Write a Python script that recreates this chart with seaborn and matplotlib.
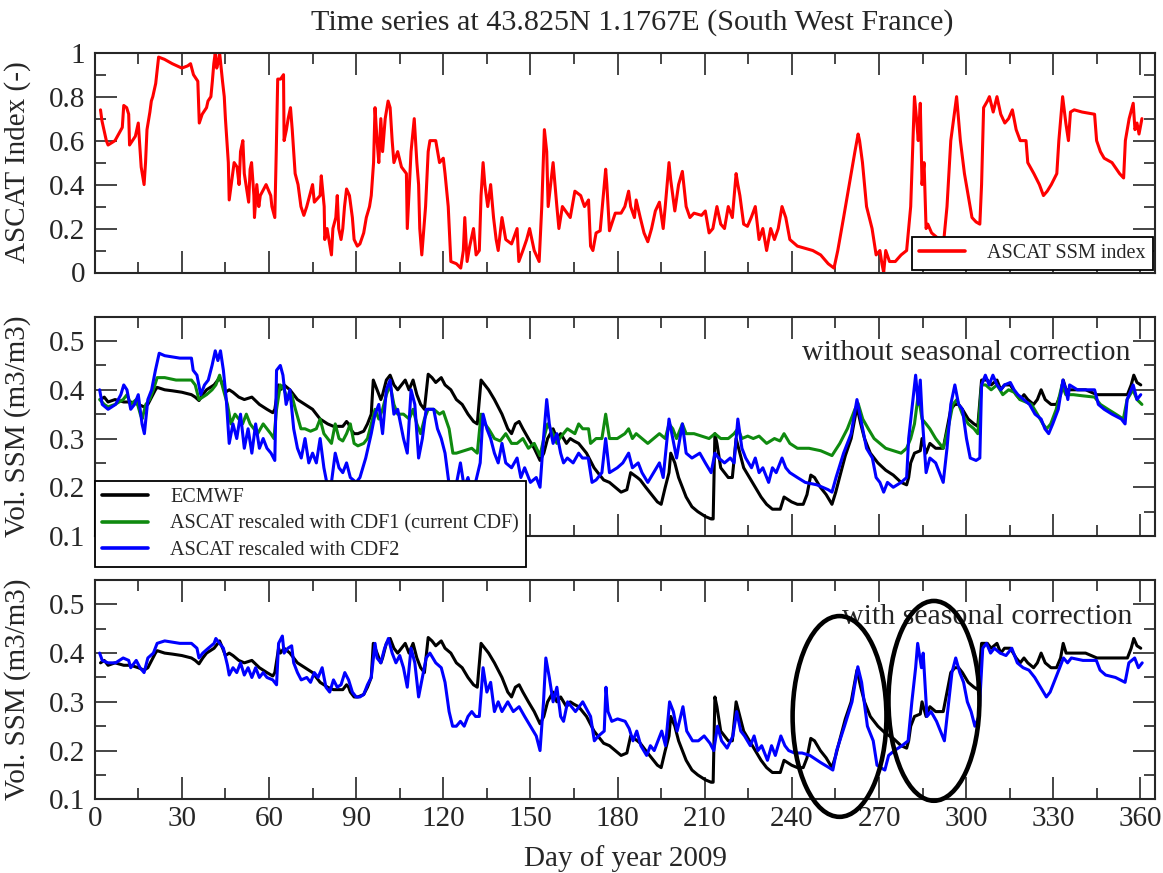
import matplotlib
matplotlib.use("Agg")
import matplotlib.pyplot as plt
from matplotlib.patches import Ellipse
from matplotlib.ticker import MultipleLocator, FuncFormatter
import seaborn as sns

# (day of year, value) pairs
ascat_index = [
    (2, 0.74), (2.5, 0.69), (3.5, 0.63), (4, 0.60), (4.6, 0.58), (7, 0.60), (9.5, 0.66),
    (10, 0.76), (11, 0.75), (11.7, 0.72), (12, 0.58), (13, 0.60), (14, 0.62), (15, 0.68),
    (16, 0.48), (17, 0.40), (17.5, 0.50), (18, 0.65), (19, 0.73), (19.5, 0.78), (20, 0.80),
    (21, 0.86), (21.5, 0.92), (22, 0.98), (24, 0.97), (26.7, 0.95), (30, 0.93), (32, 0.94),
    (33, 0.95), (34, 0.90), (35, 0.88), (35.5, 0.87), (36, 0.68), (37, 0.72), (38.5, 0.75),
    (39, 0.78), (40, 0.80), (40.5, 0.87), (41, 0.95), (41.5, 1.0), (42, 0.93), (42.6, 0.96),
    (43, 1.0), (44, 0.87), (44.6, 0.80), (45, 0.70), (45.5, 0.60), (46, 0.50), (46.3, 0.33),
    (47, 0.40), (48, 0.50), (49, 0.48), (49.7, 0.40), (50.2, 0.55), (51, 0.60), (51.5, 0.45),
    (53, 0.32), (53.5, 0.47), (54, 0.50), (54.8, 0.35), (55, 0.25), (55.8, 0.40), (56.5, 0.30),
    (57, 0.35), (59, 0.40), (60.6, 0.35), (61, 0.30), (62, 0.25), (62.5, 0.55), (63, 0.88),
    (64, 0.88), (65, 0.90), (65.2, 0.60), (66, 0.65), (66.6, 0.70), (67.4, 0.75), (68, 0.65),
    (68.5, 0.55), (69, 0.45), (70, 0.40), (71, 0.30), (72, 0.26), (73, 0.30), (74, 0.35),
    (75, 0.40), (75.6, 0.32), (77.6, 0.35), (78, 0.44), (79, 0.30), (79.2, 0.15), (80, 0.20),
    (81, 0.12), (81.5, 0.08), (82, 0.20), (83, 0.25), (83.5, 0.35), (84, 0.20), (84.8, 0.15),
    (85.4, 0.20), (86, 0.30), (86.7, 0.38), (87.7, 0.35), (88.7, 0.25), (89.3, 0.15),
    (90.4, 0.12), (91.3, 0.13), (92.6, 0.18), (93.5, 0.25), (94.6, 0.30), (95.2, 0.35),
    (96, 0.50), (96.5, 0.75), (97.2, 0.60), (97.8, 0.50), (98.5, 0.70), (99.1, 0.55),
    (100, 0.70), (101, 0.78), (101.7, 0.75), (102.4, 0.60), (103, 0.50), (104.3, 0.55),
    (105.6, 0.48), (107.3, 0.45), (107.6, 0.20), (108.9, 0.55), (110, 0.70), (110.9, 0.50),
    (111.5, 0.40), (111.9, 0.20), (112.6, 0.08), (113.9, 0.30), (114.8, 0.55), (115.4, 0.60),
    (117.4, 0.60), (118.7, 0.50), (120, 0.52), (120.6, 0.45), (121.7, 0.30), (122.6, 0.05),
    (124.5, 0.04), (126, 0.02), (126.9, 0.10), (127.4, 0.25), (128.2, 0.05), (129.1, 0.12),
    (130.4, 0.20), (131.3, 0.08), (132.4, 0.10), (133, 0.35), (133.7, 0.50), (134.3, 0.40),
    (135.3, 0.30), (136.3, 0.40), (137.3, 0.25), (138.2, 0.15), (138.9, 0.10), (140.2, 0.25),
    (141.5, 0.15), (143.5, 0.13), (145.4, 0.20), (146, 0.05), (147.4, 0.10), (148.7, 0.15),
    (149.7, 0.20), (151.3, 0.10), (153, 0.05), (153.9, 0.30), (154.8, 0.65), (155.6, 0.55),
    (156.1, 0.30), (157.8, 0.50), (159.1, 0.30), (159.8, 0.20), (161, 0.30), (163.7, 0.25),
    (165.3, 0.37), (167.3, 0.35), (168.6, 0.30), (170, 0.33), (170.7, 0.12), (171.5, 0.10),
    (172.6, 0.18), (174, 0.19), (175.9, 0.47), (176.3, 0.40), (177.2, 0.19), (179.2, 0.27),
    (181.2, 0.27), (182.5, 0.30), (183.8, 0.37), (184.5, 0.30), (185.8, 0.25), (186.4, 0.33),
    (187.8, 0.25), (189.1, 0.18), (190.4, 0.14), (191.7, 0.20), (193, 0.28), (194.4, 0.32),
    (195.7, 0.20), (196.4, 0.30), (197.7, 0.50), (198.3, 0.42), (199.7, 0.28), (201, 0.40),
    (202.3, 0.46), (203.6, 0.30), (204.9, 0.25), (206.3, 0.27), (208.9, 0.26), (210.2, 0.28),
    (211.5, 0.18), (212.8, 0.20), (214.2, 0.30), (215.5, 0.22), (216.8, 0.20), (218.1, 0.30),
    (219.5, 0.25), (220.8, 0.45), (221.4, 0.40), (222.1, 0.35), (223.4, 0.22), (224.7, 0.21),
    (226, 0.25), (227.4, 0.30), (228.7, 0.15), (230, 0.20), (231.3, 0.10), (232.7, 0.20),
    (234, 0.15), (235.3, 0.20), (236.6, 0.30), (237.9, 0.25), (239.3, 0.15), (241.9, 0.12),
    (244.6, 0.11), (247.2, 0.10), (249.9, 0.08), (252.5, 0.04), (254.5, 0.02), (255.8, 0.10),
    (257.8, 0.25), (260.4, 0.45), (261.7, 0.55), (262.8, 0.63), (263.3, 0.60), (264.3, 0.50),
    (265.7, 0.30), (267.6, 0.20), (269, 0.08), (270.3, 0.10), (271, 0.04), (271.6, 0.0),
    (272.3, 0.10), (273.6, 0.05), (275.6, 0.05), (277.6, 0.08), (279.5, 0.10), (280.9, 0.30),
    (282.2, 0.80), (282.9, 0.70), (283.5, 0.60), (284.2, 0.77), (284.8, 0.40), (285.5, 0.50),
    (286.2, 0.20), (286.8, 0.22), (288.1, 0.18), (290.8, 0.15), (292.1, 0.12), (293.4, 0.30),
    (294.7, 0.60), (296.1, 0.74), (296.7, 0.80), (298, 0.60), (299.4, 0.45), (300.7, 0.35),
    (302, 0.25), (303.4, 0.23), (304.7, 0.22), (305.3, 0.40), (306, 0.75), (307.3, 0.78),
    (308, 0.80), (309.3, 0.73), (310.6, 0.80), (311.9, 0.72), (313.3, 0.68), (314.6, 0.70),
    (315.9, 0.74), (317.2, 0.65), (318.6, 0.60), (320.6, 0.60), (321.2, 0.50), (323.3, 0.45),
    (325.2, 0.40), (326.6, 0.35), (327.9, 0.37), (329.3, 0.40), (331.2, 0.45), (331.9, 0.60),
    (333.2, 0.80), (334.3, 0.68), (335.2, 0.60), (335.9, 0.73), (337.2, 0.74), (339.9, 0.73),
    (344.2, 0.72), (344.9, 0.60), (346.2, 0.55), (347.5, 0.52), (350.2, 0.50), (352.8, 0.45),
    (354.2, 0.43), (354.8, 0.60), (356.1, 0.70), (357.5, 0.77), (358.1, 0.65), (358.8, 0.68),
    (359.5, 0.63), (360.5, 0.70),
]

ecmwf = [
    (2, 0.38), (3.3, 0.385), (4.6, 0.375), (7, 0.38), (10, 0.375), (12.4, 0.375), (15, 0.37),
    (17, 0.365), (18.3, 0.37), (19.6, 0.385), (20.9, 0.40), (21.5, 0.405), (24.1, 0.40),
    (26.7, 0.398), (30, 0.395), (33.3, 0.39), (34.6, 0.385), (35.9, 0.378), (37.2, 0.39),
    (38.5, 0.40), (41.1, 0.41), (42.4, 0.42), (43, 0.425), (43.7, 0.415), (45, 0.395),
    (46.3, 0.40), (47.6, 0.395), (49.6, 0.385), (51.5, 0.38), (54.1, 0.385), (56.7, 0.37),
    (59.3, 0.36), (61.3, 0.353), (62, 0.36), (63.3, 0.41), (63.9, 0.40), (65.2, 0.41),
    (67.2, 0.40), (69.8, 0.38), (72.4, 0.37), (75, 0.36), (77.6, 0.34), (80.2, 0.33),
    (82.2, 0.325), (85.4, 0.325), (86.7, 0.335), (87.4, 0.33), (88, 0.32), (89.3, 0.31),
    (90.6, 0.31), (92.6, 0.315), (93.9, 0.33), (95.2, 0.35), (95.9, 0.42), (97.2, 0.40),
    (98.5, 0.38), (99.1, 0.39), (100.4, 0.42), (101.7, 0.43), (103, 0.41), (104.3, 0.40),
    (105.6, 0.41), (106.9, 0.42), (108.2, 0.40), (109.6, 0.42), (110.9, 0.39), (112.2, 0.37),
    (113.5, 0.36), (114.8, 0.432), (116.1, 0.425), (117.4, 0.415), (119.3, 0.425),
    (120.6, 0.41), (122.6, 0.40), (124.5, 0.38), (126.5, 0.37), (128.5, 0.35), (130.4, 0.335),
    (131.7, 0.33), (133, 0.42), (134.3, 0.41), (135.6, 0.40), (137.6, 0.38), (140.2, 0.35),
    (142.2, 0.32), (143.5, 0.31), (144.8, 0.33), (146.1, 0.335), (147.4, 0.32), (149.3, 0.30),
    (151.3, 0.28), (153.3, 0.255), (154.6, 0.27), (155.9, 0.30), (157.8, 0.32), (159.1, 0.30),
    (160.4, 0.31), (162.4, 0.29), (163.7, 0.30), (165, 0.295), (166.6, 0.29), (169.3, 0.27),
    (171.9, 0.24), (173.2, 0.23), (175.2, 0.215), (177.2, 0.21), (179.2, 0.20), (181.2, 0.19),
    (183.2, 0.195), (184.5, 0.23), (186.8, 0.22), (187.8, 0.215), (189.7, 0.20),
    (191.7, 0.185), (193.7, 0.17), (195, 0.165), (196.4, 0.20), (197.7, 0.23), (198.3, 0.27),
    (199.7, 0.25), (201, 0.22), (202.3, 0.20), (203.6, 0.18), (205.6, 0.16), (207.6, 0.15),
    (210.2, 0.14), (212.2, 0.135), (212.9, 0.135), (213.5, 0.31), (214.2, 0.29),
    (215.5, 0.24), (216.8, 0.23), (218.1, 0.22), (219.5, 0.22), (220.8, 0.30), (222.1, 0.27),
    (223.4, 0.24), (225.4, 0.22), (227.4, 0.20), (229.4, 0.18), (231.3, 0.165),
    (233.3, 0.155), (236, 0.155), (237.3, 0.18), (238.6, 0.175), (239.9, 0.17),
    (241.9, 0.165), (243.9, 0.165), (245.2, 0.185), (246.5, 0.225), (247.8, 0.22),
    (249.8, 0.20), (251.8, 0.185), (253.8, 0.165), (255.1, 0.19), (256.4, 0.22),
    (258.4, 0.265), (260.4, 0.30), (262.4, 0.365), (263.7, 0.33), (265, 0.30), (267, 0.27),
    (269.6, 0.25), (272.3, 0.235), (274.9, 0.225), (277.6, 0.21), (279.5, 0.205),
    (280.2, 0.22), (280.9, 0.25), (282.2, 0.27), (284.2, 0.275), (284.8, 0.30), (286.2, 0.27),
    (287.5, 0.29), (289.5, 0.28), (292.1, 0.28), (293.4, 0.32), (294.7, 0.36), (296.1, 0.37),
    (297.4, 0.37), (298.7, 0.36), (300.7, 0.34), (302.7, 0.33), (304, 0.325), (305.3, 0.42),
    (306, 0.42), (307.3, 0.42), (308.6, 0.41), (310.6, 0.42), (311.9, 0.40), (313.2, 0.41),
    (315.2, 0.41), (317.2, 0.39), (318.6, 0.38), (319.9, 0.39), (321.2, 0.38), (323.2, 0.37),
    (324.5, 0.38), (325.8, 0.40), (327.2, 0.38), (329.2, 0.37), (331.1, 0.37), (332.5, 0.39),
    (333.4, 0.42), (334.4, 0.40), (335.8, 0.40), (338.4, 0.40), (341.1, 0.40), (345, 0.39),
    (347.7, 0.39), (350.2, 0.39), (355.5, 0.39), (356.8, 0.41), (357.7, 0.43),
    (358.8, 0.415), (360.1, 0.41),
]

ascat_cdf1 = [
    (1.7, 0.38), (3.3, 0.37), (4.6, 0.365), (7, 0.37), (9.8, 0.38), (11.1, 0.39), (12.4, 0.37),
    (14.3, 0.38), (15.7, 0.35), (16.3, 0.34), (17.6, 0.37), (18.9, 0.38), (20.2, 0.40),
    (21.5, 0.425), (24.1, 0.425), (28, 0.42), (33.3, 0.42), (34.6, 0.41), (35.9, 0.38),
    (37.2, 0.385), (38.5, 0.39), (40.4, 0.40), (41.7, 0.41), (43, 0.43), (44.3, 0.40),
    (45.7, 0.37), (46.9, 0.33), (48.3, 0.35), (49.6, 0.34), (50.9, 0.33), (52.2, 0.35),
    (53.5, 0.33), (54.8, 0.32), (56.1, 0.31), (58, 0.33), (59.3, 0.32), (60.6, 0.31),
    (61.7, 0.30), (62.6, 0.36), (63.9, 0.41), (65.2, 0.40), (66.5, 0.38), (67.8, 0.39),
    (69.1, 0.36), (71, 0.32), (72.4, 0.32), (74.3, 0.315), (76.3, 0.32), (77.6, 0.34),
    (78.9, 0.31), (80.2, 0.30), (81.5, 0.29), (82.8, 0.33), (84.1, 0.30), (85.4, 0.295),
    (86.7, 0.31), (88, 0.33), (89.3, 0.29), (90.6, 0.285), (92.6, 0.29), (93.9, 0.30),
    (95.2, 0.33), (96.5, 0.36), (97.8, 0.34), (99.1, 0.36), (100.4, 0.39), (101.7, 0.41),
    (103, 0.37), (104.3, 0.35), (106.3, 0.35), (108.3, 0.34), (109.6, 0.36), (110.9, 0.33),
    (112.2, 0.31), (113.5, 0.34), (114.8, 0.36), (116.7, 0.36), (118.7, 0.35), (120, 0.355),
    (122, 0.32), (123.3, 0.27), (124.5, 0.27), (127.2, 0.275), (129.8, 0.28), (131.7, 0.27),
    (133, 0.35), (134.3, 0.33), (135.6, 0.32), (137.6, 0.30), (139.6, 0.295), (141.5, 0.31),
    (143.5, 0.29), (145.4, 0.29), (147.4, 0.30), (149.3, 0.28), (151.3, 0.29), (153.3, 0.265),
    (154.6, 0.30), (155.9, 0.33), (157.8, 0.31), (159.1, 0.29), (160, 0.30), (162.7, 0.32),
    (165.3, 0.31), (166.6, 0.33), (168, 0.32), (170, 0.32), (170.7, 0.29), (172.6, 0.30),
    (174.6, 0.30), (175.9, 0.35), (177.2, 0.30), (179.9, 0.30), (182.5, 0.31), (183.8, 0.32),
    (185.1, 0.30), (186.4, 0.31), (188.4, 0.30), (190.4, 0.29), (192.4, 0.30), (194.4, 0.31),
    (196.4, 0.30), (197.7, 0.33), (199, 0.32), (200.3, 0.30), (202.3, 0.33), (203.6, 0.31),
    (206.3, 0.31), (208.9, 0.305), (211.5, 0.30), (213.5, 0.31), (215.5, 0.30), (218.1, 0.30),
    (220.1, 0.31), (221.4, 0.32), (222.8, 0.30), (224.8, 0.305), (226.7, 0.30),
    (228.7, 0.305), (231.3, 0.29), (234, 0.30), (235.9, 0.295), (237.3, 0.31), (239.3, 0.29),
    (241.9, 0.28), (245.9, 0.28), (249.9, 0.275), (253.8, 0.265), (256.5, 0.29),
    (259.1, 0.32), (261.7, 0.36), (262.8, 0.372), (264.4, 0.34), (266.3, 0.32), (268.3, 0.30),
    (270.3, 0.29), (272.3, 0.28), (274.9, 0.275), (277.6, 0.27), (279.5, 0.28), (280.9, 0.30),
    (282.2, 0.33), (283.5, 0.39), (284.8, 0.34), (286.2, 0.33), (287.5, 0.32), (289.5, 0.30),
    (292.1, 0.28), (294.1, 0.33), (295.4, 0.37), (296.8, 0.38), (298.7, 0.35), (300.7, 0.33),
    (302.7, 0.32), (304, 0.31), (305.3, 0.41), (306.7, 0.41), (308.6, 0.40), (310.6, 0.41),
    (312.6, 0.39), (314.6, 0.40), (316.5, 0.395), (318.5, 0.38), (320.5, 0.375),
    (322.5, 0.37), (324.5, 0.35), (326.4, 0.33), (327.7, 0.32), (329.1, 0.33), (331, 0.36),
    (333, 0.41), (334.3, 0.39), (336.9, 0.39), (339.6, 0.388), (344.2, 0.385), (346.2, 0.37),
    (348.8, 0.36), (351.5, 0.35), (354.1, 0.34), (355.4, 0.38), (357.4, 0.40), (358.8, 0.38),
    (360.5, 0.37),
]

ascat_cdf2 = [
    (1.7, 0.40), (2.6, 0.37), (4.6, 0.36), (7.2, 0.37), (9, 0.39), (10, 0.41), (11.1, 0.40),
    (12.4, 0.36), (13.7, 0.37), (15, 0.39), (16.3, 0.33), (17.1, 0.31), (18.3, 0.38),
    (19.6, 0.40), (20.9, 0.44), (22.2, 0.475), (24.1, 0.47), (29.3, 0.465), (33.3, 0.465),
    (33.9, 0.44), (35.2, 0.43), (36.5, 0.39), (37.8, 0.41), (39.1, 0.42), (40.4, 0.45),
    (41.5, 0.48), (42.4, 0.46), (43.3, 0.48), (44.3, 0.44), (45.3, 0.38), (46.3, 0.29),
    (47.6, 0.33), (48.9, 0.30), (50.2, 0.35), (51.5, 0.28), (52.8, 0.32), (54.1, 0.27),
    (55.4, 0.33), (56.7, 0.28), (58, 0.30), (59.3, 0.28), (60.7, 0.27), (62, 0.255),
    (62.6, 0.44), (63.9, 0.45), (64.8, 0.43), (65.9, 0.37), (67.2, 0.40), (68.5, 0.32),
    (69.8, 0.28), (71.1, 0.26), (72.4, 0.30), (73.7, 0.25), (75, 0.27), (76.3, 0.25),
    (77.6, 0.30), (78.9, 0.24), (80.2, 0.20), (81.5, 0.21), (82.8, 0.27), (84.1, 0.24),
    (85.4, 0.23), (86.7, 0.25), (88, 0.22), (90, 0.21), (91.3, 0.22), (93.3, 0.26),
    (95.2, 0.31), (96.5, 0.35), (97.8, 0.37), (99.1, 0.31), (100.4, 0.40), (101.7, 0.42),
    (103, 0.35), (104.3, 0.36), (106.3, 0.30), (107.6, 0.27), (108.9, 0.40), (110.2, 0.37),
    (111.5, 0.26), (112.8, 0.30), (114.1, 0.36), (116.7, 0.36), (118, 0.32), (119.3, 0.30),
    (120.6, 0.27), (121.9, 0.21), (123.2, 0.20), (124.6, 0.21), (125.9, 0.25), (127.2, 0.20),
    (128.5, 0.22), (129.8, 0.19), (131.1, 0.21), (132.7, 0.25), (133.7, 0.35), (135, 0.32),
    (136.3, 0.30), (137.6, 0.27), (138.9, 0.25), (140.2, 0.29), (141.5, 0.25), (143.5, 0.24),
    (145.4, 0.26), (146.7, 0.22), (148, 0.24), (150, 0.21), (152, 0.22), (153.3, 0.20),
    (154.5, 0.30), (155.6, 0.38), (156.5, 0.33), (157.8, 0.29), (159.1, 0.31), (160.4, 0.27),
    (161.4, 0.25), (162.7, 0.26), (164.7, 0.25), (166.6, 0.27), (167.9, 0.26), (169.9, 0.26),
    (171.2, 0.21), (172.6, 0.215), (174.6, 0.23), (175.9, 0.30), (177.2, 0.23), (179.9, 0.24),
    (181.8, 0.25), (183.8, 0.27), (185.1, 0.24), (187.1, 0.25), (188.4, 0.23), (190.4, 0.21),
    (192.4, 0.23), (194.4, 0.25), (195.7, 0.22), (197.7, 0.34), (199, 0.30), (200.3, 0.26),
    (202.3, 0.33), (203.6, 0.27), (205.6, 0.26), (208.3, 0.27), (210.2, 0.25), (212.2, 0.23),
    (213.5, 0.27), (214.8, 0.26), (216.8, 0.25), (218.8, 0.26), (220.1, 0.25), (221.4, 0.34),
    (222.8, 0.28), (224.1, 0.26), (226.1, 0.24), (227.4, 0.26), (228.7, 0.23), (230, 0.24),
    (232, 0.21), (233.3, 0.24), (234.6, 0.23), (236.6, 0.26), (237.9, 0.24), (239.3, 0.23),
    (241.9, 0.22), (244.6, 0.21), (248.6, 0.205), (252.5, 0.195), (253.8, 0.19),
    (255.2, 0.22), (257.8, 0.27), (260.4, 0.31), (262.4, 0.38), (263.7, 0.34), (265.7, 0.28),
    (267.7, 0.26), (269, 0.22), (270.3, 0.21), (271.6, 0.19), (272.9, 0.21), (274.9, 0.20),
    (277.6, 0.21), (279.5, 0.22), (280.2, 0.30), (281.5, 0.37), (282.6, 0.43), (283.5, 0.37),
    (284.2, 0.42), (284.8, 0.35), (286.2, 0.23), (287.5, 0.26), (289.5, 0.25), (292.1, 0.21),
    (293.4, 0.28), (294.7, 0.37), (296.1, 0.41), (297.4, 0.37), (298.7, 0.36), (300.1, 0.30),
    (301.4, 0.26), (303.4, 0.255), (304.7, 0.26), (305.3, 0.41), (306.6, 0.43), (307.9, 0.41),
    (309.2, 0.43), (310.6, 0.41), (311.9, 0.40), (313.2, 0.41), (315.2, 0.415), (316.5, 0.40),
    (317.8, 0.39), (319.8, 0.38), (321.8, 0.37), (323.7, 0.35), (325.8, 0.34), (327.1, 0.32),
    (328.4, 0.31), (329.8, 0.33), (331.7, 0.36), (333.3, 0.42), (334.3, 0.40), (335, 0.38),
    (335.6, 0.41), (338.3, 0.40), (344.2, 0.40), (345.5, 0.37), (347.5, 0.36), (350.2, 0.35),
    (353.4, 0.34), (354.7, 0.33), (355.4, 0.38), (357.5, 0.41), (358.8, 0.38), (360.1, 0.39),
]

ascat_cdf2_seasonal = [
    (1.7, 0.40), (2.6, 0.385), (4.6, 0.38), (7.2, 0.38), (9.8, 0.39), (11.7, 0.385),
    (12.4, 0.37), (14.3, 0.385), (15.6, 0.37), (17, 0.36), (18.3, 0.39), (20.2, 0.40),
    (21.5, 0.42), (24.1, 0.425), (29.3, 0.42), (33.3, 0.42), (35.2, 0.41), (35.9, 0.39),
    (37.2, 0.40), (39.1, 0.41), (41.1, 0.42), (41.7, 0.43), (43, 0.42), (44.3, 0.41),
    (45.7, 0.375), (46.3, 0.355), (47.6, 0.37), (48.9, 0.36), (50.2, 0.38), (51.5, 0.355),
    (52.8, 0.37), (54.1, 0.35), (55.4, 0.37), (56.7, 0.35), (58, 0.36), (59.3, 0.35),
    (61.3, 0.345), (62.6, 0.335), (63.3, 0.42), (64.6, 0.435), (65.2, 0.40), (66.5, 0.41),
    (67.8, 0.415), (68.5, 0.38), (69.8, 0.36), (71.1, 0.345), (73, 0.35), (74.3, 0.34),
    (75.6, 0.36), (76.9, 0.35), (78.3, 0.37), (79.6, 0.33), (80.9, 0.32), (82.2, 0.345),
    (83.5, 0.33), (84.8, 0.335), (86.1, 0.36), (87.4, 0.345), (88.7, 0.32), (90, 0.31),
    (91.3, 0.31), (92.6, 0.315), (93.9, 0.335), (95.2, 0.35), (96.5, 0.42), (97.2, 0.39),
    (98.5, 0.38), (99.8, 0.41), (101.1, 0.43), (102.4, 0.40), (103.7, 0.38), (105, 0.395),
    (106.3, 0.37), (107.6, 0.33), (108.9, 0.41), (110.2, 0.38), (111.5, 0.31), (112.8, 0.35),
    (114.1, 0.39), (115.4, 0.40), (117.4, 0.38), (119.3, 0.37), (120.6, 0.34), (122, 0.28),
    (123.2, 0.25), (124.5, 0.25), (125.9, 0.26), (127.2, 0.25), (128.5, 0.27), (129.8, 0.28),
    (131.1, 0.27), (132.4, 0.27), (133.7, 0.37), (135, 0.32), (136.3, 0.34), (137.6, 0.28),
    (138.9, 0.30), (140.2, 0.28), (142.2, 0.30), (144.1, 0.28), (146.1, 0.29), (148, 0.27),
    (150, 0.25), (152, 0.23), (153.3, 0.20), (154.5, 0.30), (155.3, 0.39), (156.5, 0.35),
    (157.8, 0.30), (159.1, 0.33), (160.4, 0.27), (161.4, 0.26), (162.8, 0.30), (165.5, 0.28),
    (168, 0.30), (170.7, 0.27), (172, 0.22), (173.4, 0.23), (175.4, 0.24), (176, 0.33),
    (176.7, 0.28), (178, 0.26), (180, 0.265), (182.6, 0.26), (184, 0.245), (185.3, 0.22),
    (186.6, 0.24), (188, 0.21), (190, 0.19), (191.3, 0.21), (192.6, 0.20), (193.9, 0.22),
    (195.2, 0.24), (196.5, 0.21), (197.9, 0.30), (199.2, 0.28), (200.5, 0.24), (202.5, 0.29),
    (203.8, 0.24), (205.8, 0.22), (207.8, 0.22), (209.8, 0.23), (211.8, 0.215), (213.1, 0.20),
    (214.4, 0.25), (215.8, 0.22), (217.7, 0.205), (219.7, 0.23), (221, 0.28), (222.4, 0.24),
    (223.7, 0.23), (225.7, 0.21), (227, 0.23), (228.3, 0.20), (229.6, 0.21), (231.6, 0.18),
    (233, 0.21), (234.3, 0.19), (236.2, 0.23), (237.6, 0.21), (238.9, 0.20), (240.9, 0.195),
    (243.5, 0.195), (246.2, 0.19), (250, 0.175), (252.8, 0.165), (254.1, 0.16), (255.4, 0.20),
    (258.1, 0.25), (260.7, 0.30), (262.7, 0.372), (264, 0.34), (266, 0.25), (268, 0.22),
    (269.3, 0.17), (270.6, 0.165), (272, 0.16), (273.3, 0.19), (275.3, 0.20), (277.9, 0.21),
    (280, 0.22), (281.3, 0.30), (282.6, 0.37), (283.3, 0.42), (284.6, 0.37), (285.2, 0.40),
    (286.5, 0.27), (287.9, 0.28), (289.8, 0.26), (292.5, 0.22), (293.8, 0.29), (295.1, 0.36),
    (296.4, 0.39), (297.8, 0.36), (299.1, 0.34), (300.4, 0.30), (301.7, 0.28), (303, 0.25),
    (304.4, 0.27), (305.7, 0.41), (307, 0.42), (308.4, 0.40), (309.7, 0.41), (311.7, 0.40),
    (313.7, 0.395), (315.7, 0.41), (317.6, 0.38), (319.6, 0.37), (321.6, 0.365), (323.6, 0.35),
    (325.6, 0.33), (327.6, 0.31), (328.9, 0.32), (330.9, 0.35), (332.2, 0.37), (333.5, 0.39),
    (334.9, 0.38), (336.2, 0.39), (340.2, 0.385), (344.8, 0.385), (346.1, 0.365),
    (348, 0.355), (351.4, 0.35), (354.7, 0.34), (356, 0.38), (358, 0.39), (359.3, 0.37),
    (360.6, 0.38),
]

# circled periods in the bottom panel: (centre day, centre SSM, width in days, height)
circles = [(256.4, 0.27, 32.3, 0.412), (288.9, 0.302, 31.3, 0.41)]

title = "Time series at 43.825N 1.1767E (South West France)"

sns.set_style("ticks")
plt.rcParams["font.family"] = ["Liberation Serif", "DejaVu Serif"]
plt.rcParams["axes.linewidth"] = 1.5

W, H = 1163, 873
fig = plt.figure(figsize=(W / 100, H / 100), dpi=100)


def panel(top, bottom):
    return fig.add_axes([94.7 / W, 1 - bottom / H, (1155 - 94.7) / W, (bottom - top) / H])


ax1 = panel(52.7, 272.5)
ax2 = panel(316.7, 536)
ax3 = panel(580, 799.3)


def draw(ax, pts, color, label=None):
    d, v = zip(*pts)
    sns.lineplot(x=list(d), y=list(v), ax=ax, color=color, lw=2.2,
                 estimator=None, sort=False, label=label)


draw(ax1, ascat_index, "#ff0000", "ASCAT SSM index")
draw(ax2, ecmwf, "black", "ECMWF")
draw(ax2, ascat_cdf1, "#0f8a0f", "ASCAT rescaled with CDF1 (current CDF)")
draw(ax2, ascat_cdf2, "#0000ff", "ASCAT rescaled with CDF2")
draw(ax3, ecmwf, "black")
draw(ax3, ascat_cdf2_seasonal, "#0000ff")

for ax in (ax1, ax2, ax3):
    ax.set_xlim(0, 365)
    ax.xaxis.set_major_locator(MultipleLocator(30))
    ax.xaxis.set_minor_locator(MultipleLocator(15))
    ax.tick_params(which="both", direction="in", top=True, right=True, width=1.2,
                   labelsize=21)
    ax.tick_params(which="major", length=15.5)
    ax.tick_params(which="minor", length=7.7)
    ax.tick_params(axis="x", pad=5)
    ax.tick_params(axis="y", pad=7)
    ax.yaxis.set_major_formatter(FuncFormatter(lambda v, p: "%g" % round(v, 2)))
    ax.yaxis.set_label_coords(-0.06, 0.5)

ax1.set_ylim(0, 1)
ax1.yaxis.set_major_locator(MultipleLocator(0.2))
ax1.yaxis.set_minor_locator(MultipleLocator(0.1))
ax1.set_ylabel("ASCAT Index (-)", fontsize=21)
for ax in (ax2, ax3):
    ax.set_ylim(0.1, 0.55)
    ax.yaxis.set_major_locator(MultipleLocator(0.1))
    ax.yaxis.set_minor_locator(MultipleLocator(0.05))
    ax.set_ylabel("Vol. SSM (m3/m3)", fontsize=21)
ax1.tick_params(labelbottom=False)
ax2.tick_params(labelbottom=False)

leg_kw = dict(fontsize=14.5, frameon=True, fancybox=False, framealpha=1, edgecolor="black",
              borderpad=0.35, handlelength=2.3, handletextpad=1.1, labelspacing=0.36)
leg1 = ax1.legend(loc="lower right", bbox_to_anchor=(1.0, 0.0), borderaxespad=0.1, **leg_kw)
leg2 = ax2.legend(loc="upper left", bbox_to_anchor=(0.0, 0.2508), borderaxespad=0.0, **leg_kw)
for leg in (leg1, leg2):
    leg.get_frame().set_linewidth(1.3)
    for line in leg.get_lines():
        line.set_linewidth(2.6)
if ax3.get_legend() is not None:
    ax3.get_legend().remove()

ax2.text(0.977, 0.8026, "without seasonal correction", transform=ax2.transAxes,
         ha="right", va="baseline", fontsize=21.5)
ax3.text(0.979, 0.799, "with seasonal correction", transform=ax3.transAxes,
         ha="right", va="baseline", fontsize=21.5)

for cx, cy, w, h in circles:
    ax3.add_patch(Ellipse((cx, cy), w, h, fill=False, edgecolor="black", lw=3.3,
                          clip_on=False, zorder=5))

fig.text(632.7 / W, 1 - 29.5 / H, title, ha="center", va="baseline", fontsize=21.7)
fig.text(625 / W, 1 - 866 / H, "Day of year 2009", ha="center", va="baseline", fontsize=21)

fig.savefig("out.png", dpi=100)
